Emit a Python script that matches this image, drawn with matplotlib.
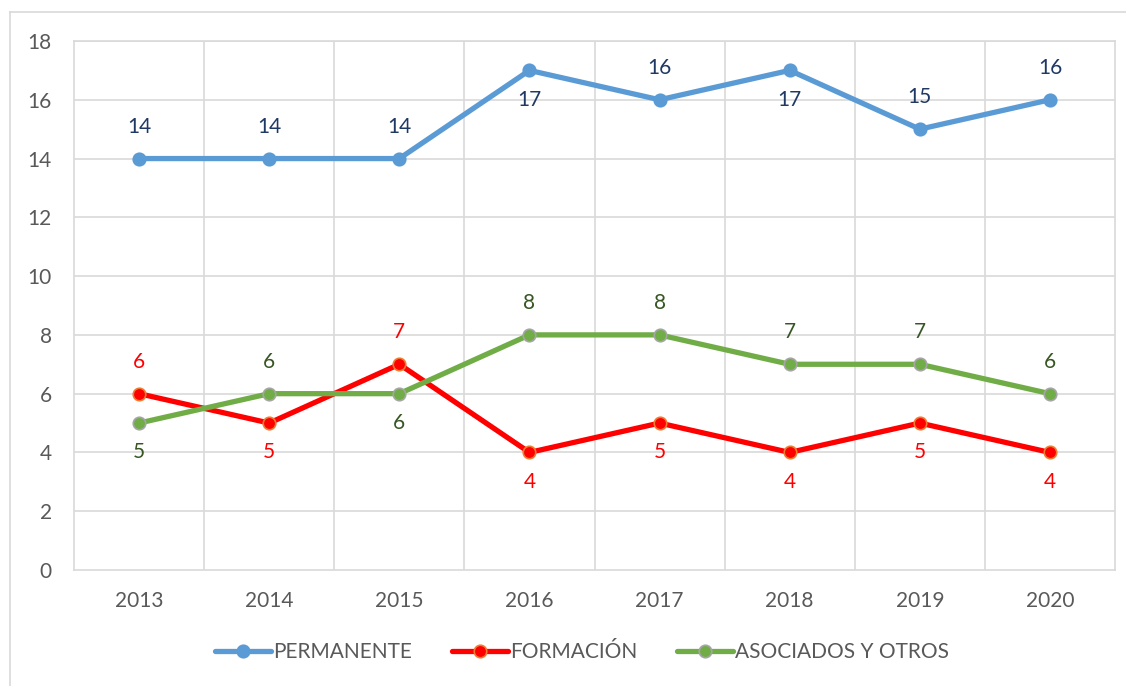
import matplotlib.pyplot as plt
from matplotlib.lines import Line2D

plt.rcParams['font.family'] = ['Lato', 'DejaVu Sans']

years = ["2013", "2014", "2015", "2016", "2017", "2018", "2019", "2020"]
permanente = [14, 14, 14, 17, 16, 17, 15, 16]
formacion = [6, 5, 7, 4, 5, 4, 5, 4]
asociados = [5, 6, 6, 8, 8, 7, 7, 6]

# label placement per point: 1 = above, -1 = below
perm_pos = [1, 1, 1, -1, 1, -1, 1, 1]
form_pos = [1, -1, 1, -1, -1, -1, -1, -1]
asoc_pos = [-1, 1, -1, 1, 1, 1, 1, 1]

fig = plt.figure(figsize=(11.26, 6.86), dpi=100)
ax = fig.add_axes([74 / 1126, 1 - 570 / 686, (1115 - 74) / 1126, (570 - 41) / 686])

grid_c = "#d9d9d9"
fs = 15
x = list(range(len(years)))

series = [
    ("PERMANENTE", permanente, perm_pos, "#5b9bd5", "#5b9bd5", "#5b9bd5", "#203864"),
    ("FORMACIÓN", formacion, form_pos, "#ff0000", "#ff0000", "#ed7d31", "#ff0000"),
    ("ASOCIADOS Y OTROS", asociados, asoc_pos, "#70ad47", "#70ad47", "#a5a5a5", "#375623"),
]

handles = []
for name, vals, pos, lc, mfc, mec, tc in series:
    h, = ax.plot(x, vals, color=lc, lw=3.8, marker="o", ms=9, mfc=mfc, mec=mec,
                 mew=1.2, solid_capstyle="round", zorder=3, label=name)
    handles.append(h)
    for xi, v, p in zip(x, vals, pos):
        off = 23 if p > 0 else -21
        ax.annotate(str(v), (xi, v), xytext=(0, off), textcoords="offset points",
                    ha="center", va="center", fontsize=fs, color=tc)

ax.set_xlim(-0.5, len(years) - 0.5)
ax.set_ylim(0, 18)
ax.set_yticks(range(0, 19, 2))
ax.set_xticks(x)
ax.set_xticklabels(years)
ax.tick_params(length=0, labelsize=fs, colors="#595959")
ax.tick_params(axis="x", pad=15)
ax.tick_params(axis="y", pad=16)

for yv in range(2, 19, 2):
    ax.axhline(yv, color=grid_c, lw=1.2, zorder=1)
for xv in range(len(years) - 1):
    ax.axvline(xv + 0.5, color=grid_c, lw=1.2, zorder=1)
for s in ax.spines.values():
    s.set_color(grid_c)
    s.set_linewidth(1.2)

leg = fig.legend(handles=handles, loc="center", bbox_to_anchor=(0.517, 1 - 652 / 686),
                 ncol=3, frameon=False, fontsize=fs, handlelength=2.7,
                 columnspacing=1.9, handletextpad=0.1)
for t in leg.get_texts():
    t.set_color("#595959")

# outer chart frame
fig.add_artist(Line2D([10 / 1126, 10 / 1126], [0, 1 - 12 / 686], color=grid_c, lw=1.2,
                      transform=fig.transFigure))
fig.add_artist(Line2D([10 / 1126, 1], [1 - 12 / 686, 1 - 12 / 686], color=grid_c, lw=1.2,
                      transform=fig.transFigure))

fig.savefig("out.png", dpi=100)
